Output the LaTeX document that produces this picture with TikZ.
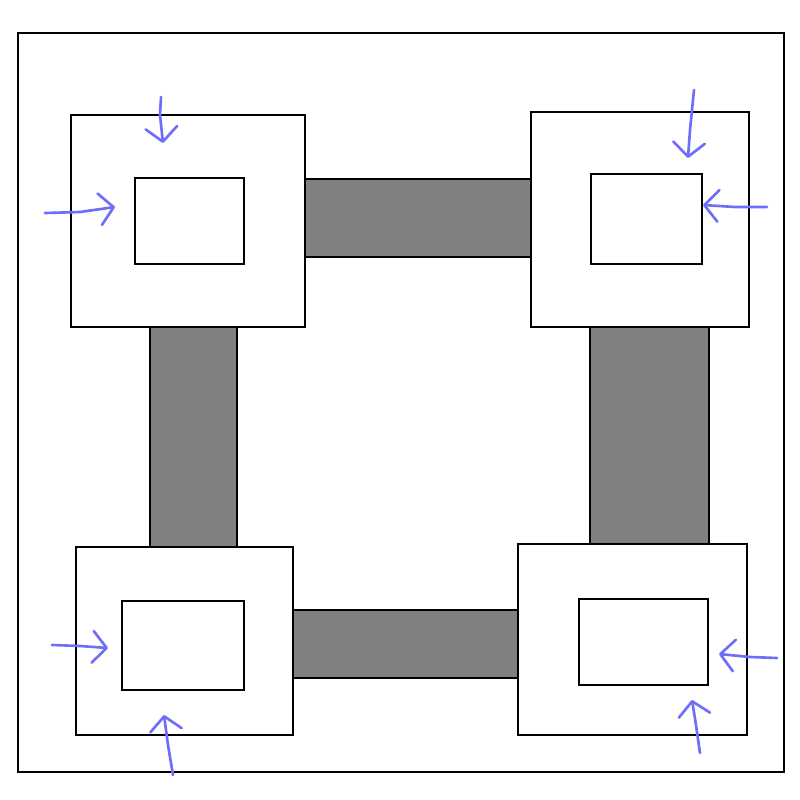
\documentclass[tikz,border=0pt]{standalone}
\usetikzlibrary{arrows.meta}
\definecolor{penblue}{RGB}{110,110,250}
\tikzstyle{wall}=[black, line width=0.6pt]
\tikzstyle{room}=[wall, fill=white]
\tikzstyle{beam}=[wall, fill=black!50]
\tikzstyle{push}=[penblue, line width=0.75pt, line cap=round, -{Straight Barb[length=4pt,width=9pt,round]}]

\begin{document}
\begin{tikzpicture}[x=0.01cm, y=-0.01cm]
	\useasboundingbox (0,0) rectangle (800,800);
	\fill[white] (0,0) rectangle (800,800);
	% frame
	\draw[wall] (18,33) rectangle (784,772);
	% gray links
	\draw[beam] (305,179) rectangle (531,257);
	\draw[beam] (150,327) rectangle (237,547);
	\draw[beam] (590,325) rectangle (709,544);
	\draw[beam] (293,610) rectangle (518,678);
	% corner blocks
	\draw[room] (71,115) rectangle (305,327);
	\draw[room] (135,178) rectangle (244,264);
	\draw[room] (531,112) rectangle (749,327);
	\draw[room] (591,174) rectangle (702,264);
	\draw[room] (76,547) rectangle (293,735);
	\draw[room] (122,601) rectangle (244,690);
	\draw[room] (518,544) rectangle (747,735);
	\draw[room] (579,599) rectangle (708,685);
	% arrows
	\draw[push] (161,97) -- (160,115) -- (163,143);
	\draw[push] (45,213) -- (80,212) -- (115,207);
	\draw[push] (694,90) -- (690,130) -- (688,158);
	\draw[push] (767,207) -- (735,207) -- (703,205);
	\draw[push] (52,645) -- (80,646) -- (108,648);
	\draw[push] (173,775) -- (168,745) -- (164,715);
	\draw[push] (777,658) -- (750,657) -- (719,654);
	\draw[push] (700,753) -- (696,725) -- (692,700);
\end{tikzpicture}
\end{document}
